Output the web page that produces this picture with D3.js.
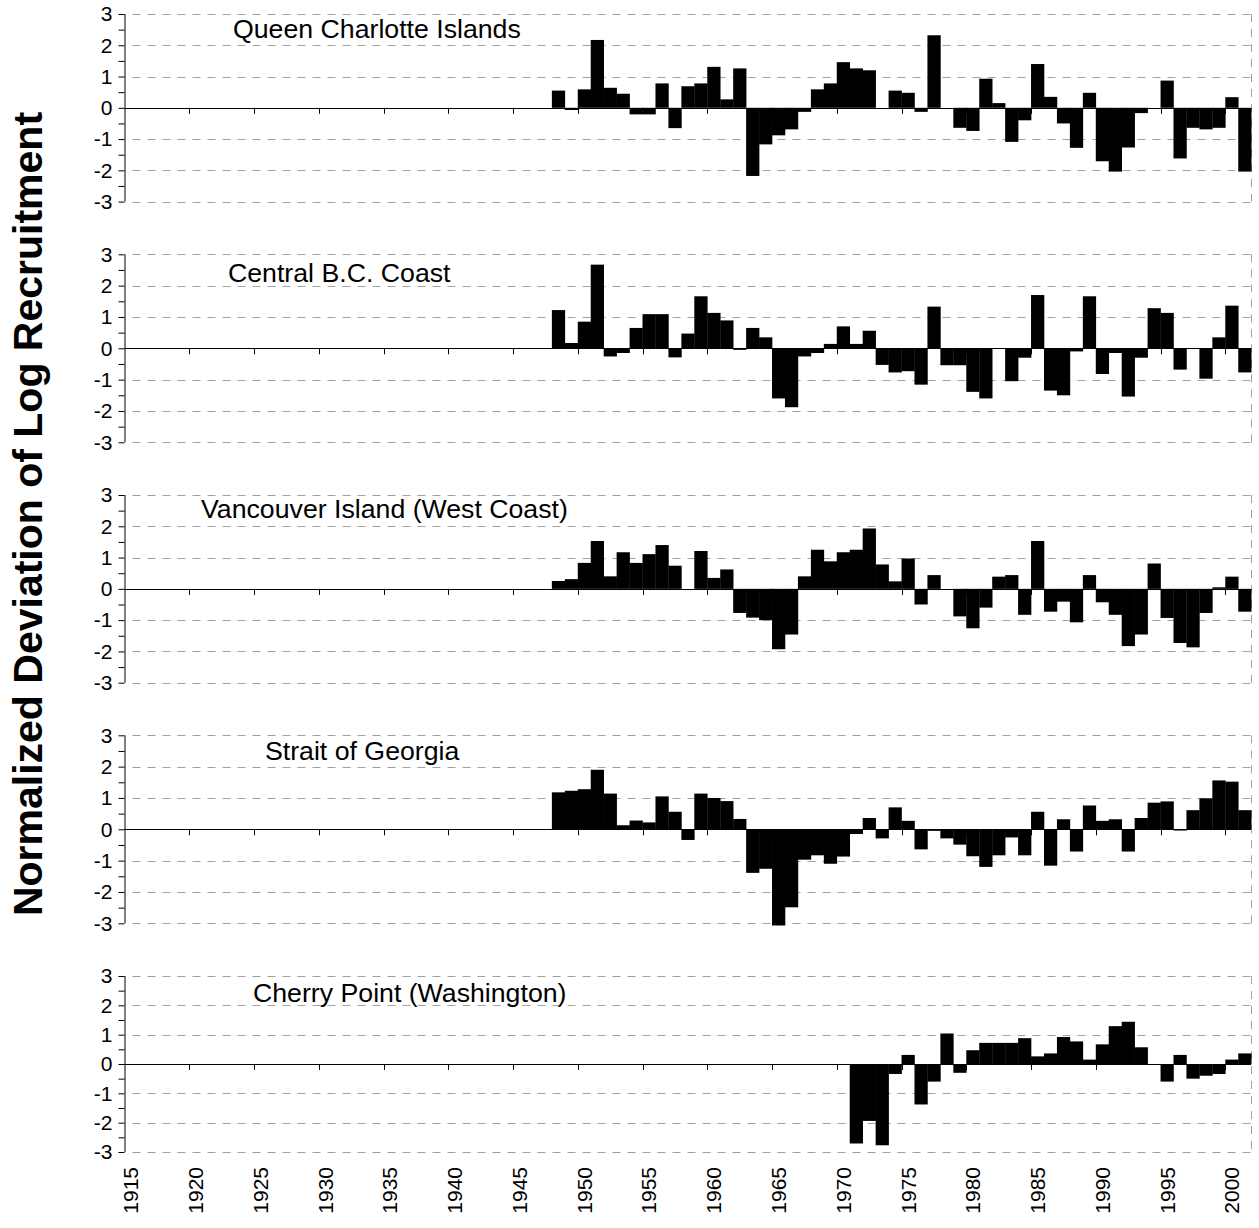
<!DOCTYPE html>
<html>
<head>
<meta charset="utf-8">
<script src="https://cdn.jsdelivr.net/npm/d3@7/dist/d3.min.js"></script>
<style>
html,body{margin:0;padding:0;background:#fff;}
svg{display:block;font-family:"Liberation Sans",Arial,sans-serif;}
</style>
</head>
<body>
<svg id="chart" width="1259" height="1228"></svg>
<script>
// ---- Data ----
const categories = ["1915","1916","1917","1918","1919","1920","1921","1922","1923","1924","1925","1926","1927","1928","1929","1930","1931","1932","1933","1934","1935","1936","1937","1938","1939","1940","1941","1942","1943","1944","1945","1946","1947","1948","1949","1950","1951","1952","1953","1954","1955","1956","1957","1958","1959","1960","1961","1962","1963","1964","1965","1966","1967","1968","1969","1970","1971","1972","1973","1974","1975","1976","1977","1978","1979","1980","1981","1982","1983","1984","1985","1986","1987","1988","1989","1990","1991","1992","1993","1994","1995","1996","1997","1998","1999","2000","2001"];
const tickLabels = ["1915","1920","1925","1930","1935","1940","1945","1950","1955","1960","1965","1970","1975","1980","1985","1990","1995","2000"];
const yTicks = [-3,-2,-1,0,1,2,3];

const regionNames = ["Queen Charlotte Islands","Central B.C. Coast","Vancouver Island (West Coast)","Strait of Georgia","Cherry Point (Washington)"];
const startYears = [1948,1948,1948,1948,1971];

const queenCharlotte = [0.55,-0.07,0.59,2.17,0.64,0.45,-0.21,-0.21,0.78,-0.65,
  0.69,0.78,1.31,0.27,1.26,-2.18,-1.17,-0.88,-0.69,-0.13,
  0.59,0.78,1.46,1.26,1.20,0,0.55,0.48,-0.13,2.32,
  0,-0.64,-0.74,0.93,0.15,-1.09,-0.40,1.40,0.35,-0.50,
  -1.28,0.48,-1.71,-2.04,-1.27,-0.17,0,0.87,-1.62,-0.64,
  -0.69,-0.64,0.34,-2.04];
const centralCoast = [1.22,0.17,0.85,2.67,-0.26,-0.15,0.65,1.09,1.09,-0.29,
  0.47,1.66,1.13,0.89,-0.05,0.65,0.35,-1.60,-1.88,-0.26,
  -0.15,0.14,0.70,0.14,0.56,-0.53,-0.77,-0.73,-1.16,1.33,
  -0.54,-0.54,-1.39,-1.60,-0.02,-1.05,-0.30,1.70,-1.35,-1.50,
  -0.10,1.66,-0.82,-0.15,-1.54,-0.30,1.28,1.13,-0.68,0,
  -0.97,0.35,1.36,-0.77];
const westCoastVI = [0.25,0.31,0.83,1.53,0.40,1.17,0.83,1.11,1.40,0.74,
  0,1.21,0.35,0.62,-0.77,-0.92,-1.00,-1.93,-1.46,0.40,
  1.25,0.88,1.17,1.25,1.93,0.78,0.24,0.97,-0.50,0.44,
  0,-0.88,-1.26,-0.60,0.39,0.44,-0.83,1.53,-0.73,-0.41,
  -1.07,0.44,-0.43,-0.83,-1.83,-1.46,0.81,-0.93,-1.73,-1.87,
  -0.77,0.05,0.39,-0.73];
const straitGeorgia = [1.18,1.23,1.28,1.90,1.14,0.13,0.28,0.22,1.05,0.56,
  -0.34,1.14,1.00,0.90,0.33,-1.39,-1.26,-3.07,-2.49,-0.97,
  -0.83,-1.10,-0.87,-0.15,0.36,-0.29,0.70,0.27,-0.64,-0.05,
  -0.29,-0.49,-0.86,-1.20,-0.83,-0.26,-0.83,0.56,-1.16,0.32,
  -0.71,0.76,0.27,0.32,-0.71,0.36,0.85,0.89,-0.04,0.61,
  0.99,1.56,1.52,0.61];
const cherryPoint = [-2.71,-1.94,-2.77,-0.34,0.31,-1.38,-0.60,1.04,-0.30,0.47,
  0.72,0.72,0.72,0.88,0.26,0.36,0.92,0.77,0.15,0.67,
  1.29,1.44,0.57,0,-0.60,0.31,-0.50,-0.40,-0.34,0.15,
  0.36];
const seriesList = [queenCharlotte, centralCoast, westCoastVI, straitGeorgia, cherryPoint];

// ---- Layout ----
const FONT = "'Liberation Sans',Arial,Helvetica,sans-serif";
const svg = d3.select("#chart");
const left = 124.5, right = 1251.2;
const panelTops = [14, 254.3, 495, 735.3, 976];
const panelBottoms = [201.6, 442.3, 682.7, 923.3, 1152];
const titlePos = [[233,29],[228,273],[201,509],[265,751],[253,993]];
const gridColor = "#a3a3a3";

const x = d3.scaleBand().domain(categories).range([left, right]).padding(0);

seriesList.forEach((vals, i) => {
  const y = d3.scaleLinear().domain([-3,3]).range([panelBottoms[i], panelTops[i]]);
  const g = svg.append("g");

  // dashed gridlines
  g.selectAll("line.grid").data(yTicks.filter(t => t !== 0)).join("line")
    .attr("x1", left + 8).attr("x2", right)
    .attr("y1", d => Math.round(y(d)) + 0.5).attr("y2", d => Math.round(y(d)) + 0.5)
    .attr("stroke", gridColor).attr("stroke-width", 1).attr("stroke-dasharray", "8,7");
  // right border dashed
  g.append("line")
    .attr("x1", Math.round(right) + 0.5).attr("x2", Math.round(right) + 0.5)
    .attr("y1", y(3)).attr("y2", y(-3))
    .attr("stroke", gridColor).attr("stroke-width", 1).attr("stroke-dasharray", "8,7");

  // x ticks on zero line at every 5th category boundary
  const tickCats = categories.filter((c, k) => k > 0 && k % 5 === 0);
  g.selectAll("line.xt").data(tickCats).join("line")
    .attr("x1", d => Math.round(x(d)) + 0.5).attr("x2", d => Math.round(x(d)) + 0.5)
    .attr("y1", y(0)).attr("y2", y(0) + 6)
    .attr("stroke", "#000").attr("stroke-width", 1);

  // bars
  const data = vals.map((v, k) => ({cat: String(startYears[i] + k), v}));
  g.selectAll("rect.bar").data(data).join("rect")
    .attr("x", d => x(d.cat))
    .attr("width", x.bandwidth() + 0.3)
    .attr("y", d => y(Math.max(0, d.v)))
    .attr("height", d => Math.abs(y(d.v) - y(0)))
    .attr("fill", "#000");

  // zero line
  g.append("line")
    .attr("x1", left).attr("x2", right)
    .attr("y1", Math.round(y(0)) + 0.5).attr("y2", Math.round(y(0)) + 0.5)
    .attr("stroke", "#000").attr("stroke-width", 1);

  // y axis
  const yAxis = d3.axisLeft(y).tickValues(d3.range(-3, 3.01, 0.5))
    .tickSize(6).tickFormat(d => Number.isInteger(d) ? String(d) : "");
  const ya = g.append("g").attr("transform", `translate(${left},0)`).call(yAxis);
  ya.select(".domain").attr("stroke", "#000").attr("d", `M0.5,${y(3)}V${y(-3)}`);
  ya.selectAll(".tick line").attr("stroke", "#000");
  ya.selectAll(".tick text").attr("font-size", 21).attr("fill", "#000")
    .attr("font-family", FONT).attr("x", -12);

  // title
  g.append("text")
    .attr("x", titlePos[i][0]).attr("y", titlePos[i][1])
    .attr("dominant-baseline", "central")
    .attr("font-family", FONT)
    .attr("font-size", 26.7).attr("fill", "#000")
    .text(regionNames[i]);

  // x labels on bottom panel
  if (i === seriesList.length - 1) {
    g.selectAll("text.xl").data(tickLabels).join("text")
      .attr("transform", d => `translate(${x(d) + x.bandwidth() / 2},1167) rotate(-90)`)
      .attr("text-anchor", "end").attr("dominant-baseline", "central")
      .attr("font-family", FONT)
      .attr("font-size", 21).attr("fill", "#000")
      .text(d => d);
  }
});

// y axis title
svg.append("text")
  .attr("transform", "translate(28,514) rotate(-90)")
  .attr("text-anchor", "middle").attr("dominant-baseline", "central")
  .attr("font-family", FONT)
  .attr("font-size", 41).attr("font-weight", "bold").attr("fill", "#000")
  .text("Normalized Deviation of Log Recruitment");
</script>
</body>
</html>
